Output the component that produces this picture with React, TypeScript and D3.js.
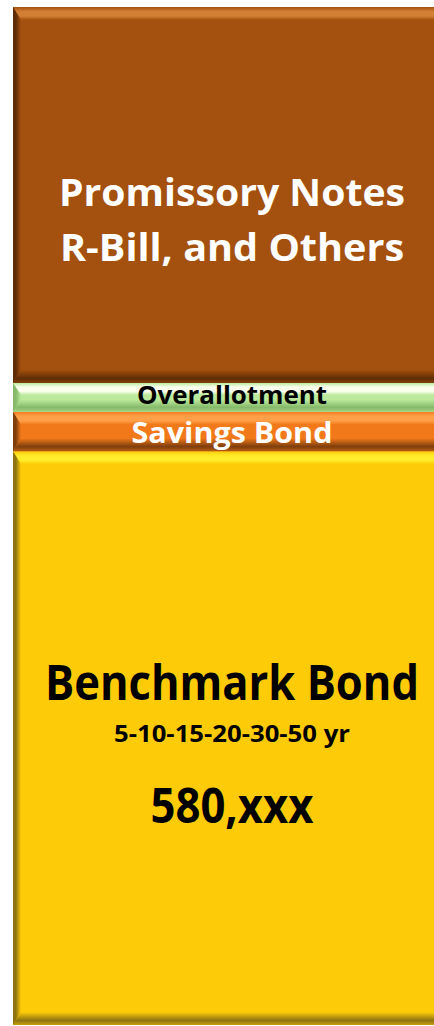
import React, { useLayoutEffect, useRef, useState } from "react";
import * as d3 from "d3";

// stacked from the bottom up
const categories = ["Benchmark Bond", "Savings Bond", "Overallotment", "Promissory Notes"];
const values = [580, 40, 29, 380];

const labelLines = [
  ["Benchmark Bond", "5-10-15-20-30-50 yr", "580,xxx"],
  ["Savings Bond"],
  ["Overallotment"],
  ["Promissory Notes", "R-Bill, and Others"],
];

// colours for each segment: base, highlight, shadow
const baseColors = ["#FECB09", "#F1791A", "#BCEA9C", "#A4500E"];
const lightColors = ["#FFEC2A", "#FFA048", "#FBFFEE", "#D27E34"];
const darkColors = ["#8E7410", "#7E3E0C", "#86B96A", "#5E2D06"];
const textColors = ["#000", "#fff", "#000", "#fff"];

// label layout: [font size, offset from segment centre, text width]
const labelLayout = [
  [[49, -38, 374], [24, 4, 236], [49, 85, 163]],
  [[29, 12, 201]],
  [[25, 7.2, 190]],
  [[38, 11.5, 346], [38, 66, 344]],
];

const W = 434;
const H = 1026;

// Calibri is narrower than Open Sans, so squeeze each label to the measured width
function Label({ x, y, fs, width, fill, text }: any) {
  const ref = useRef<SVGTextElement>(null);
  const [sx, setSx] = useState(0.9);
  useLayoutEffect(() => {
    const n = ref.current ? ref.current.getComputedTextLength() : 0;
    if (n > 0) setSx(width / n);
  }, [text, fs, width]);
  return (
    <text
      ref={ref}
      transform={`translate(${x},${y}) scale(${sx},1)`}
      textAnchor="middle"
      fontFamily="'Open Sans', sans-serif"
      fontWeight="bold"
      fontSize={fs}
      fill={fill}
    >
      {text}
    </text>
  );
}

export default function App() {
  const total = d3.sum(values);
  const y = d3.scaleLinear().domain([0, total]).range([1025, 7]);
  const x = d3.scaleBand().domain(["all"]).range([13, 446]).padding(0);

  const row: any = { key: "all" };
  categories.forEach((c, i) => (row[c] = values[i]));
  const series = d3.stack().keys(categories)([row]);

  const x0 = x("all") as number;
  const x1 = x0 + x.bandwidth();
  const cx = 232;

  return (
    <svg
      width={W}
      height={H}
      style={{ position: "absolute", left: 0, top: 0, display: "block", background: "#fff" }}
    >
      <defs>
        {categories.map((c, i) => (
          <g key={c}>
            <linearGradient id={"top" + i} x1="0" y1="0" x2="0" y2="1">
              <stop offset="0" stopColor={baseColors[i]} />
              <stop offset="0.35" stopColor={lightColors[i]} />
              <stop offset="0.7" stopColor={lightColors[i]} />
              <stop offset="1" stopColor={baseColors[i]} />
            </linearGradient>
            <linearGradient id={"bot" + i} x1="0" y1="0" x2="0" y2="1">
              <stop offset="0" stopColor={baseColors[i]} />
              <stop offset="0.65" stopColor={darkColors[i]} />
              <stop offset="1" stopColor={d3.interpolateRgb(darkColors[i], baseColors[i])(0.5)} />
            </linearGradient>
            <linearGradient id={"left" + i} x1="0" y1="0" x2="1" y2="0">
              <stop offset="0" stopColor={darkColors[i]} />
              <stop offset="0.35" stopColor={darkColors[i]} />
              <stop offset="1" stopColor={baseColors[i]} />
            </linearGradient>
          </g>
        ))}
      </defs>
      {series.map((s, i) => {
        const top = y(s[0][1]);
        const bot = y(s[0][0]);
        const h = bot - top;
        const b = Math.min(13, h * 0.42);
        const lw = Math.min(8, b);
        return (
          <g key={s.key}>
            <rect x={x0} y={top} width={x1 - x0} height={h} fill={baseColors[i]} />
            <polygon
              points={`${x0},${top} ${x1},${top} ${x1},${top + b} ${x0 + lw},${top + b}`}
              fill={`url(#top${i})`}
            />
            <polygon
              points={`${x0},${bot} ${x1},${bot} ${x1},${bot - b} ${x0 + lw},${bot - b}`}
              fill={`url(#bot${i})`}
            />
            <polygon
              points={`${x0},${top} ${x0 + lw},${top + b} ${x0 + lw},${bot - b} ${x0},${bot}`}
              fill={`url(#left${i})`}
            />
            {labelLines[i].map((t, j) => {
              const [fs, dy, tw] = labelLayout[i][j];
              return (
                <Label
                  key={j}
                  x={cx}
                  y={(top + bot) / 2 + dy}
                  fs={fs}
                  width={tw}
                  fill={textColors[i]}
                  text={t}
                />
              );
            })}
          </g>
        );
      })}
    </svg>
  );
}
